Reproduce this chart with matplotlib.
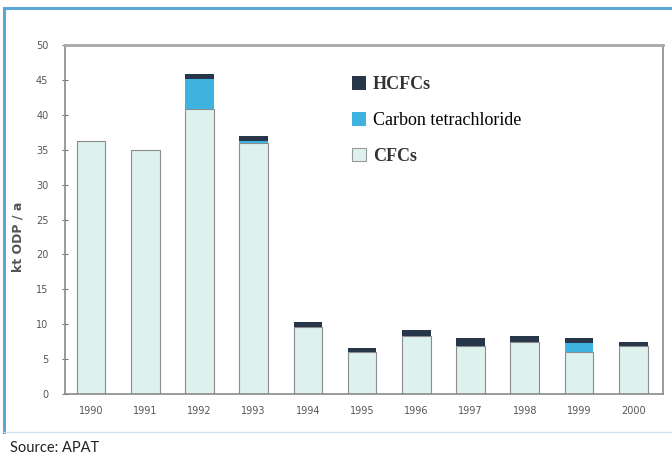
import matplotlib
matplotlib.use("Agg")
import matplotlib.pyplot as plt
from matplotlib.patches import Patch
import numpy as np

# ODP consumption by substance group, kt ODP / a
years = ["1990", "1991", "1992", "1993", "1994", "1995", "1996", "1997", "1998", "1999", "2000"]
cfcs = [36.3, 35.0, 40.9, 35.9, 9.6, 6.0, 8.3, 6.9, 7.4, 6.0, 6.9]
carbon_tet = [0.0, 0.0, 4.3, 0.3, 0.0, 0.0, 0.0, 0.0, 0.0, 1.3, 0.0]
hcfcs = [0.0, 0.0, 0.6, 0.7, 0.7, 0.6, 0.8, 1.1, 0.9, 0.7, 0.5]
yticks = [0, 5, 10, 15, 20, 25, 30, 35, 40, 45, 50]

C_CFC = "#ddf1ee"
C_CCL4 = "#3fb3df"
C_HCFC = "#28364a"
EDGE = "#8c8c8c"

fig = plt.figure(figsize=(6.72, 4.75), dpi=100, facecolor="white")

# outer frame of the box
fig.add_artist(plt.Line2D([4 / 672, 4 / 672], [1 - 8 / 475, 1 - 432 / 475], color="#5aa6d6", lw=2.2))
fig.add_artist(plt.Line2D([4 / 672, 1.0], [1 - 8 / 475, 1 - 8 / 475], color="#5aa6d6", lw=2.2))
fig.add_artist(plt.Line2D([4 / 672, 1.0], [1 - 432 / 475, 1 - 432 / 475], color="#cfe3ef", lw=1.0))

ax = fig.add_axes([65 / 672, (475 - 394) / 475, (663 - 65) / 672, (394 - 45) / 475])
x = np.arange(len(years))
w = 0.53
cfcs = np.array(cfcs)
carbon_tet = np.array(carbon_tet)
hcfcs = np.array(hcfcs)

ax.bar(x, cfcs, w, color=C_CFC, edgecolor=EDGE, linewidth=0.8)
ax.bar(x, carbon_tet, w, bottom=cfcs, color=C_CCL4, edgecolor="none")
ax.bar(x, hcfcs, w, bottom=cfcs + carbon_tet, color=C_HCFC, edgecolor="none")

ax.set_xlim(-0.48, 10.55)
ax.set_ylim(0, 50)
ax.set_yticks(yticks)
ax.set_yticklabels([str(v) for v in yticks], fontsize=7, color="#555555")
ax.set_xticks(x)
ax.set_xticklabels(years, fontsize=7, color="#555555")
ax.tick_params(axis="y", length=4, width=0.8, color="#777777", direction="inout", pad=10)
ax.tick_params(axis="x", length=0, pad=9)
for s in ax.spines.values():
    s.set_color("#8a8a8a")
    s.set_linewidth(1.2)
ax.spines["top"].set_linewidth(2.0)
ax.spines["top"].set_color("#a8a8a8")
ax.set_ylabel("kt ODP / a", fontsize=9, fontweight="bold", color="#555555")
ax.yaxis.set_label_coords(-0.068, 0.45)

handles = [Patch(facecolor=C_HCFC, edgecolor="none"),
           Patch(facecolor=C_CCL4, edgecolor="none"),
           Patch(facecolor=C_CFC, edgecolor="#999999", linewidth=0.8)]
labels = ["HCFCs", "Carbon tetrachloride", "CFCs"]
leg = fig.legend(handles, labels, loc="upper left", bbox_to_anchor=(336 / 672, 1 - 60 / 475),
                 frameon=False, handlelength=0.75, handleheight=0.75, handletextpad=0.4,
                 labelspacing=1.05, prop={"family": "Liberation Serif", "size": 13})
for t, bold in zip(leg.get_texts(), [True, False, True]):
    if bold:
        t.set_fontweight("bold")
        t.set_color("#333333")

fig.text(10 / 672, 1 - 448 / 475, "Source: APAT", fontsize=10.5, family="Lato",
         color="#222222", va="center", ha="left")

fig.savefig("out.png", dpi=100, facecolor="white")
